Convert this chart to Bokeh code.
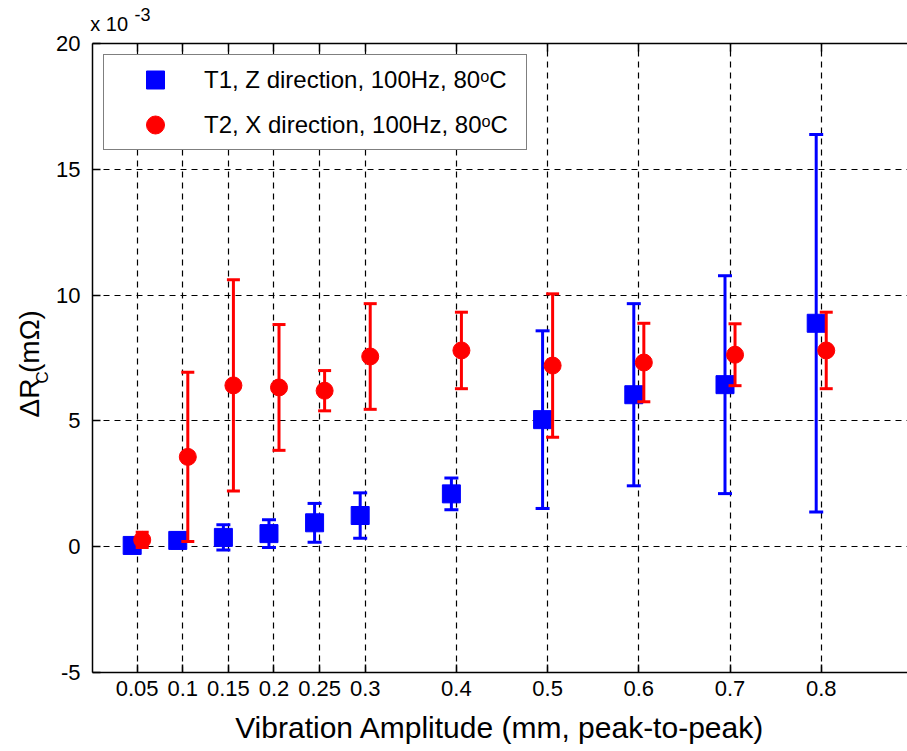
import numpy as np
from bokeh.plotting import figure
from bokeh.models import (ColumnDataSource, FixedTicker, LinearAxis, Range1d,
                          Title, Legend, LegendItem)
from bokeh.embed import file_html
from bokeh.resources import INLINE

# ---- data (values in units of 1e-3 mOhm) ----
amplitude = [0.05, 0.1, 0.15, 0.2, 0.25, 0.3, 0.4, 0.5, 0.6, 0.7, 0.8]
t1_mean = [0.05, 0.25, 0.37, 0.52, 0.95, 1.24, 2.10, 5.05, 6.04, 6.44, 8.88]
t1_err = [0.10, 0.30, 0.50, 0.55, 0.77, 0.90, 0.63, 3.53, 3.62, 4.33, 7.50]
t2_mean = [0.27, 3.57, 6.41, 6.33, 6.20, 7.56, 7.80, 7.20, 7.32, 7.63, 7.80]
t2_err = [0.30, 3.36, 4.20, 2.50, 0.80, 2.10, 1.52, 2.85, 1.56, 1.23, 1.52]

x_ticks = [0.05, 0.1, 0.15, 0.2, 0.25, 0.3, 0.4, 0.5, 0.6, 0.7, 0.8]
x_tick_labels = ["0.05", "0.1", "0.15", "0.2", "0.25", "0.3", "0.4", "0.5", "0.6", "0.7", "0.8"]
y_ticks = [-5, 0, 5, 10, 15, 20]
y_tick_labels = ["-5", "0", "5", "10", "15", "20"]
series_labels = ["T1, Z direction, 100Hz, 80\u1d52C", "T2, X direction, 100Hz, 80\u1d52C"]
x_label = "Vibration Amplitude (mm, peak-to-peak)"
y_label_main = "\u0394R\u2009(m\u03a9)"
y_label_sub = "C"
exp_base = "x 10"
exp_power = "-3"

FONT = "Liberation Sans"
BLUE = "#0000ff"
RED = "#ff0000"
DODGE = 0.0055


def make_source(mean, err, shift):
    x = np.array(amplitude) + shift
    m = np.array(mean)
    e = np.array(err)
    return ColumnDataSource(dict(x=x, y=m, lo=m - e, hi=m + e))


src1 = make_source(t1_mean, t1_err, -DODGE)
src2 = make_source(t2_mean, t2_err, DODGE)

p = figure(width=907, height=751, output_backend="svg", toolbar_location=None,
           x_range=Range1d(0.001, 0.8946), y_range=Range1d(-5, 20),
           min_border_left=92, min_border_right=0, min_border_top=43,
           min_border_bottom=79)
p.outline_line_color = None
p.background_fill_color = "white"
p.border_fill_color = "white"

# axes
for ax in (p.xaxis[0], p.yaxis[0]):
    ax.axis_line_color = "black"
    ax.axis_line_width = 1.5
    ax.major_tick_line_color = "black"
    ax.major_tick_line_width = 1.5
    ax.major_tick_in = 8
    ax.major_tick_out = 0
    ax.minor_tick_in = 0
    ax.minor_tick_out = 0
    ax.major_label_text_font = FONT
    ax.major_label_text_font_size = "22px"
    ax.major_label_text_color = "black"

p.xaxis.ticker = FixedTicker(ticks=x_ticks)
p.xaxis.major_label_overrides = {t: l for t, l in zip(x_ticks, x_tick_labels)}
p.xaxis.major_label_standoff = 8
p.xaxis.axis_label = x_label
p.xaxis.axis_label_text_font = FONT
p.xaxis.axis_label_text_font_size = "30px"
p.xaxis.axis_label_text_font_style = "normal"
p.xaxis.axis_label_text_color = "black"
p.xaxis.axis_label_standoff = 12

p.yaxis.ticker = FixedTicker(ticks=y_ticks)
p.yaxis.major_label_overrides = {t: l for t, l in zip(y_ticks, y_tick_labels)}
p.yaxis.major_label_standoff = 12

# top box edge with inward ticks (no tick labels); its axis label carries "x 10"
# (label is centred on the axis start, so it is padded with no-break spaces)
top = LinearAxis(ticker=FixedTicker(ticks=x_ticks),
                 major_label_overrides={t: "" for t in x_ticks},
                 major_label_standoff=0, major_tick_in=8, major_tick_out=0,
                 minor_tick_in=0, minor_tick_out=0, axis_line_width=1.5,
                 major_tick_line_width=1.5, axis_line_color="black",
                 major_tick_line_color="black",
                 axis_label="\u00a0" * 6 + exp_base, axis_label_standoff=9,
                 axis_label_text_font=FONT, axis_label_text_font_size="20px",
                 axis_label_text_font_style="normal", axis_label_text_color="black")
try:
    top.axis_label_align = "start"
except Exception:
    try:
        top.axis_label_align = "left"
    except Exception:
        pass
p.add_layout(top, "above")

# raised exponent, overlapping the axis label band (near zero-size title)
p.add_layout(Title(text=exp_power, align="left", offset=42, standoff=-22,
                   vertical_align="bottom", text_font=FONT, text_font_size="18px",
                   text_font_style="normal", text_color="black"), "above")

# y-axis label: subscript first (nearer the axis), then main text
p.add_layout(Title(text=y_label_sub, align="left", offset=289, standoff=4,
                   vertical_align="bottom", text_font=FONT, text_font_size="17px",
                   text_font_style="normal", text_color="black"), "left")
p.add_layout(Title(text=y_label_main, align="left", offset=255, standoff=-32,
                   vertical_align="bottom", text_font=FONT, text_font_size="28px",
                   text_font_style="normal", text_color="black"), "left")

# grid
for g in (p.xgrid[0], p.ygrid[0]):
    g.grid_line_color = "black"
    g.grid_line_dash = "6 5"
    g.grid_line_width = 1.2
p.xgrid.ticker = FixedTicker(ticks=x_ticks)
p.ygrid.ticker = FixedTicker(ticks=y_ticks)

# series
p.segment(x0="x", y0="lo", x1="x", y1="hi", source=src1, line_color=BLUE, line_width=3)
p.scatter(x="x", y="lo", source=src1, marker="dash", size=14, line_color=BLUE, line_width=3)
p.scatter(x="x", y="hi", source=src1, marker="dash", size=14, line_color=BLUE, line_width=3)
r1 = p.scatter(x="x", y="y", source=src1, marker="square", size=18,
               fill_color=BLUE, line_color=BLUE, line_width=1)

p.segment(x0="x", y0="lo", x1="x", y1="hi", source=src2, line_color=RED, line_width=3)
p.scatter(x="x", y="lo", source=src2, marker="dash", size=13, line_color=RED, line_width=3)
p.scatter(x="x", y="hi", source=src2, marker="dash", size=13, line_color=RED, line_width=3)
r2 = p.scatter(x="x", y="y", source=src2, marker="circle", size=17,
               fill_color=RED, line_color=RED, line_width=1)

legend = Legend(items=[LegendItem(label=series_labels[0], renderers=[r1]),
                       LegendItem(label=series_labels[1], renderers=[r2])],
                location=(11, 522), padding=2, spacing=-8,
                glyph_width=98, glyph_height=45, label_standoff=0, label_width=320,
                label_text_font=FONT, label_text_font_size="24px", label_text_color="black",
                border_line_color="black", border_line_width=1.2,
                background_fill_color="white", background_fill_alpha=1.0, margin=0)
p.add_layout(legend)

open("out.html", "w").write(file_html(p, INLINE))
